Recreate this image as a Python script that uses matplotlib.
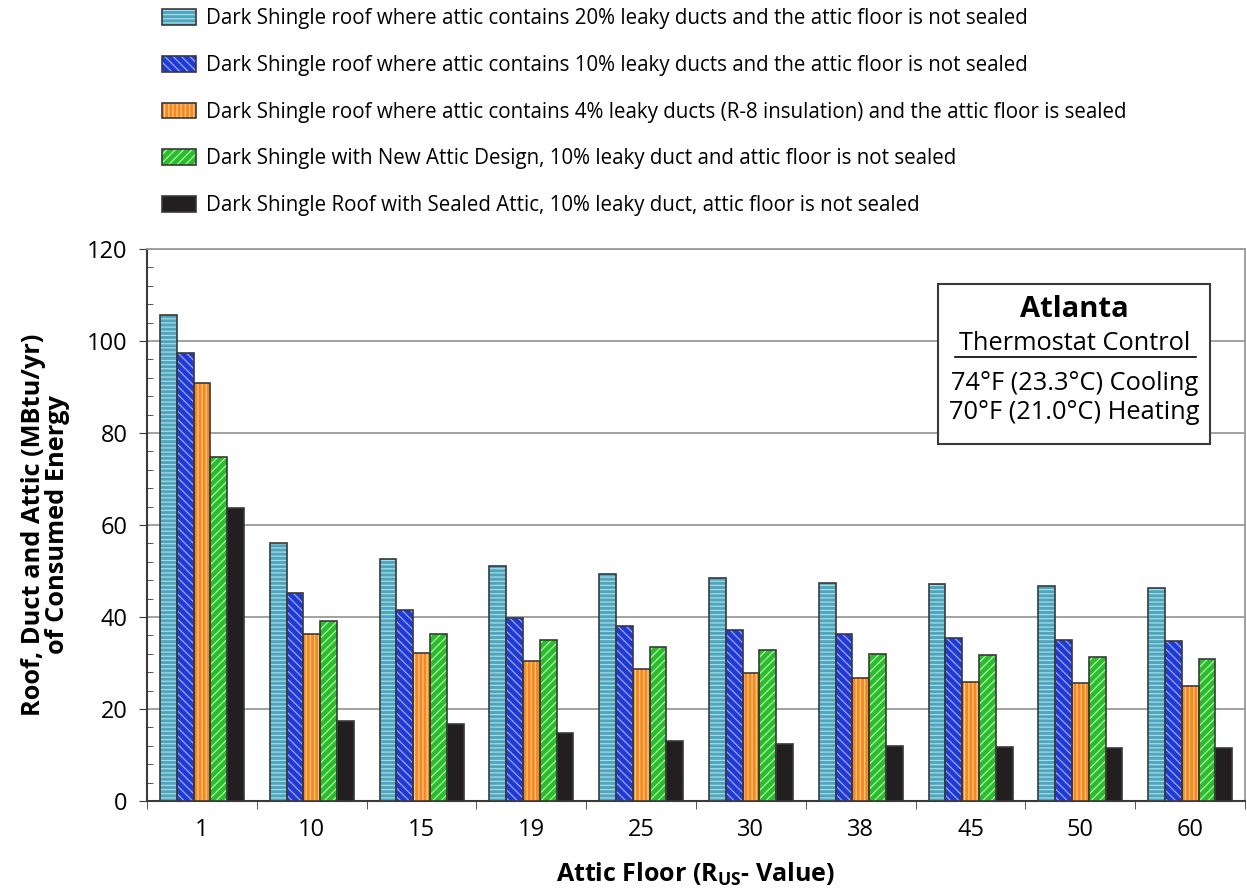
import numpy as np
import matplotlib.pyplot as plt
from matplotlib.patches import Patch, Rectangle
from matplotlib.lines import Line2D
from matplotlib.ticker import MultipleLocator

plt.rcParams['font.family'] = ['Open Sans', 'DejaVu Sans']
plt.rcParams['hatch.linewidth'] = 0.9

r_values = ["1", "10", "15", "19", "25", "30", "38", "45", "50", "60"]

leaky20 = [105.7, 56.0, 52.6, 51.1, 49.3, 48.5, 47.5, 47.1, 46.8, 46.2]
leaky10 = [97.5, 45.3, 41.5, 39.7, 38.1, 37.2, 36.2, 35.5, 35.1, 34.7]
leaky4_sealed = [90.8, 36.2, 32.2, 30.5, 28.8, 27.8, 26.7, 25.9, 25.7, 25.1]
new_attic = [74.8, 39.1, 36.2, 34.9, 33.5, 32.9, 32.0, 31.7, 31.3, 30.9]
sealed_attic = [63.8, 17.3, 16.8, 14.8, 13.1, 12.5, 11.9, 11.7, 11.6, 11.6]

labels = [
    "Dark Shingle roof where attic contains 20% leaky ducts and the attic floor is not sealed",
    "Dark Shingle roof where attic contains 10% leaky ducts and the attic floor is not sealed",
    "Dark Shingle roof where attic contains 4% leaky ducts (R-8 insulation) and the attic floor is sealed",
    "Dark Shingle with New Attic Design, 10% leaky duct and attic floor is not sealed",
    "Dark Shingle Roof with Sealed Attic, 10% leaky duct, attic floor is not sealed",
]
series = [leaky20, leaky10, leaky4_sealed, new_attic, sealed_attic]
colors = ['#4ea6bd', '#1f3ad8', '#ff8616', '#28bf28', '#231f20']
hatches = ['----', '\\\\\\\\', '||||', '////', '']
hatch_cols = ['#a8dbe8', '#9aa8ff', '#ffcf99', '#b4f0b4', '#231f20']

fig = plt.figure(figsize=(12.47, 8.90), dpi=100)
ax = fig.add_axes([0.1179, 0.1, 0.8805, 0.6202])

x = np.arange(len(r_values))
w = 0.153
edge = '#3a3a3a'
handles = []
for i, (vals, c, h, hc) in enumerate(zip(series, colors, hatches, hatch_cols)):
    pos = x + (i - 2) * w
    ax.bar(pos, vals, w, color=c, hatch=h, edgecolor=hc, linewidth=0, zorder=3)
    ax.bar(pos, vals, w, fill=False, edgecolor=edge, linewidth=1.2, zorder=4)
    handles.append((Patch(facecolor=c, hatch=h, edgecolor=hc, linewidth=0),
                    Patch(fill=False, edgecolor=edge, linewidth=1.2)))

ax.set_xlim(-0.5, len(r_values) - 0.5)
ax.set_ylim(0, 120)
ax.set_xticks(x)
ax.set_xticklabels(r_values, fontsize=17)
ax.set_xticks(np.arange(-0.5, len(r_values)), minor=True)
ax.tick_params(axis='x', which='major', direction='in', length=3, pad=12, color=edge)
ax.tick_params(axis='x', which='minor', direction='out', length=6, color=edge)
ax.yaxis.set_major_locator(MultipleLocator(20))
ax.yaxis.set_minor_locator(MultipleLocator(4))
ax.tick_params(axis='y', which='major', direction='out', length=6, pad=8, labelsize=17, color=edge)
ax.tick_params(axis='y', which='minor', direction='in', length=4, color=edge)

ax.grid(axis='y', color='#9a9a9a', linewidth=1.3, zorder=0)
for s in ['left', 'bottom']:
    ax.spines[s].set_color(edge)
    ax.spines[s].set_linewidth(1.5)
for s in ['top', 'right']:
    ax.spines[s].set_color('#9a9a9a')
    ax.spines[s].set_linewidth(1.3)

ax.set_ylabel("Roof, Duct and Attic (MBtu/yr)\nof Consumed Energy",
              fontsize=18.3, fontweight='bold', labelpad=12, linespacing=0.95)
ax.set_xlabel("Attic Floor (R$_{\\mathregular{US}}$- Value)", fontsize=18,
              fontweight='bold', labelpad=14)

# info box
ax.add_patch(Rectangle((0.7204, 0.6467), 0.2476, 0.29, transform=ax.transAxes,
                       facecolor='white', edgecolor=edge, linewidth=1.5, zorder=6))
cx = 0.8448
ax.text(cx, 0.891, "Atlanta", transform=ax.transAxes, ha='center', va='center',
        fontsize=21, fontweight='bold', zorder=7)
ax.text(cx, 0.828, "Thermostat Control", transform=ax.transAxes, ha='center',
        va='center', fontsize=18.3, zorder=7)
ax.add_line(Line2D([0.7359, 0.9554], [0.8043, 0.8043], transform=ax.transAxes,
                   color='black', linewidth=1.2, zorder=7))
ax.text(cx, 0.757, "74°F (23.3°C) Cooling", transform=ax.transAxes, ha='center',
        va='center', fontsize=18.3, zorder=7)
ax.text(cx, 0.703, "70°F (21.0°C) Heating", transform=ax.transAxes, ha='center',
        va='center', fontsize=18.3, zorder=7)

fig.legend(handles, labels, loc='upper left', bbox_to_anchor=(0.1235, 1.0),
           frameon=False, fontsize=14.8, handlelength=1.65, handleheight=0.8,
           handletextpad=0.5, labelspacing=1.25, borderaxespad=0.0)

fig.savefig("out.png", dpi=100)
